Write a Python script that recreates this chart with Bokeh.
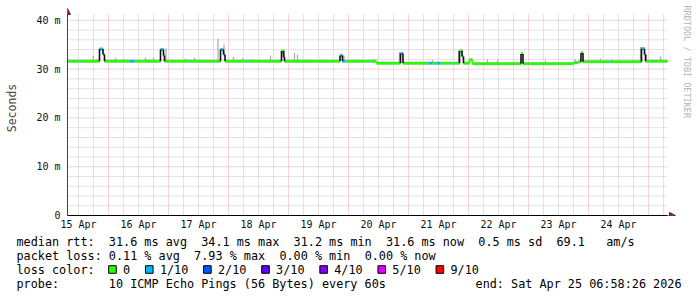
import re
import numpy as np
from bokeh.plotting import figure
from bokeh.models import Range1d, FixedTicker, Arrow, NormalHead, Label
from bokeh.layouts import column
from bokeh.embed import file_html
from bokeh.resources import INLINE
from bokeh.core.properties import value

MONO = "DejaVu Sans Mono"

# ---------------- data (hours since 15 Apr 00:00, RTT in ms) ----------------
x_start_h = 7.6
x_end_h = 247.6
y_top = 41.4

med_h = [7.6, 8.4, 8.8, 12.4, 12.8, 20.4, 21.8, 22.4, 32.4, 34.4,
         44.4, 44.8, 46.0, 46.4, 56.4, 56.8, 60.4, 60.8, 65.2, 65.6,
         68.8, 70.0, 70.6, 80.0, 80.4, 93.2, 94.0, 94.4, 116.6, 117.6,
         118.8, 128.0, 128.4, 131.2, 140.8, 141.8, 152.0, 153.6, 155.2, 156.8,
         161.6, 162.0, 164.4, 165.4, 166.0, 168.4, 169.6, 189.0, 189.8, 203.6,
         204.0, 210.0, 212.0, 213.0, 213.8, 224.0, 224.4, 237.2, 238.4, 238.8]
med_v = [31.6, 31.6, 31.6, 31.6, 31.6, 34.1, 33.0, 31.6, 31.6, 31.6,
         31.6, 34.0, 32.8, 31.6, 31.6, 31.6, 31.6, 31.6, 31.6, 31.6,
         34.0, 33.0, 31.6, 31.6, 31.6, 33.7, 32.5, 31.6, 32.8, 31.6,
         31.6, 31.6, 31.6, 31.2, 33.2, 31.2, 31.2, 31.2, 31.2, 31.2,
         31.2, 31.2, 33.7, 32.6, 31.2, 31.9, 31.1, 33.1, 31.1, 31.1,
         31.1, 31.3, 31.5, 33.3, 31.5, 31.5, 31.5, 34.2, 33.0, 31.6]
med_loss = [0, 1, 0, 1, 0, 1, 1, 0, 1, 0,
            1, 1, 1, 0, 1, 0, 1, 0, 1, 0,
            1, 1, 0, 1, 0, 0, 0, 0, 1, 1,
            0, 1, 0, 0, 1, 0, 1, 0, 1, 0,
            1, 0, 0, 0, 0, 0, 0, 0, 0, 1,
            0, 0, 0, 0, 0, 1, 0, 1, 1, 0]

smoke_h = [17.9, 22.0, 26.8, 30.0, 38.8, 42.0, 47.0, 54.8, 58.4, 67.8,
           70.2, 74.0, 77.6, 81.6, 88.8, 94.4, 98.4, 99.6, 118.2, 130.0,
           140.4, 141.6, 153.6, 164.0, 165.6, 175.6, 179.6, 189.2, 198.8, 210.8,
           213.2, 220.8, 225.6, 236.8, 239.2, 244.8]
smoke_top = [32.8, 33.3, 32.3, 32.1, 32.4, 32.3, 34.3, 32.1, 32.4, 36.2,
             35.0, 32.5, 32.2, 32.0, 32.8, 33.9, 33.3, 33.0, 32.8, 32.0,
             33.5, 33.0, 31.9, 33.8, 34.0, 32.0, 31.8, 33.5, 31.8, 32.0,
             33.6, 32.2, 32.0, 34.6, 33.0, 32.6]

day_labels = ["15 Apr", "16 Apr", "17 Apr", "18 Apr", "19 Apr",
              "20 Apr", "21 Apr", "22 Apr", "23 Apr", "24 Apr"]
y_ticks = [0, 10, 20, 30, 40]
y_tick_labels = ["0", "10 m", "20 m", "30 m", "40 m"]

stat_lines = [
    "median rtt:  31.6 ms avg  34.1 ms max  31.2 ms min  31.6 ms now  0.5 ms sd  69.1   am/s",
    "packet loss: 0.11 % avg  7.93 % max  0.00 % min  0.00 % now",
    "loss color:",
    "probe:       10 ICMP Echo Pings (56 Bytes) every 60s",
]
end_text = "end: Sat Apr 25 06:58:26 2026"
loss_labels = ["0", "1/10", "2/10", "3/10", "4/10", "5/10", "9/10"]
loss_colors = ["#26ff00", "#00b8ff", "#0059ff", "#5e00ff", "#7e00ff", "#dd00ff", "#ff0000"]

# ---------------- chart ----------------
W = 697
CH = 232
PX_PER_H = 2.5          # 60 px per day
PX_PER_MS = 215 / 44.07
frame_right_h = x_end_h + 30 / PX_PER_H
frame_top_ms = y_top + 13 / PX_PER_MS

p = figure(width=W, height=CH, output_backend="svg", toolbar_location=None,
           x_range=Range1d(x_start_h, frame_right_h), y_range=Range1d(0, frame_top_ms),
           min_border_left=67, min_border_right=0, min_border_top=0,
           min_border_bottom=17)
p.frame_align = False
p.outline_line_color = None
p.xgrid.visible = False
p.ygrid.visible = False

noon = [12 + 24 * i for i in range(len(day_labels))]
mid = [24 * i for i in range(1, 11)]
six = [6 * i for i in range(2, 42) if i % 4 != 0]

minor_col = "#c4c4c4"
major_col = "#eeaaaa"
ymin = [v for v in range(2, 42, 2) if v % 10 != 0]
ymaj = y_ticks[1:]

# grid lines (bounded to the data area)
p.segment(x0=six, x1=six, y0=[0] * len(six), y1=[y_top] * len(six),
          line_color=minor_col, line_dash="1 1", line_width=1)
p.segment(x0=[x_start_h] * len(ymin), x1=[x_end_h] * len(ymin), y0=ymin, y1=ymin,
          line_color=minor_col, line_dash="1 1", line_width=1)
p.segment(x0=mid, x1=mid, y0=[0] * len(mid), y1=[y_top] * len(mid),
          line_color=major_col, line_dash="1 1", line_width=1)
p.segment(x0=[x_start_h] * len(ymaj), x1=[x_end_h] * len(ymaj), y0=ymaj, y1=ymaj,
          line_color=major_col, line_dash="1 1", line_width=1)

xa = p.xaxis[0]
xa.ticker = FixedTicker(ticks=noon)
xa.major_label_overrides = {n: l for n, l in zip(noon, day_labels)}
xa.major_tick_line_color = None
xa.major_tick_out = 0
xa.major_tick_in = 0
xa.minor_tick_line_color = None
xa.minor_tick_out = 0
xa.major_label_standoff = 3
xa.axis_line_color = "#000000"
xa.bounds = (x_start_h, x_end_h)
xa.major_label_text_font = MONO
xa.major_label_text_font_size = "10px"
xa.major_label_text_color = "#111111"

ya = p.yaxis[0]
ya.ticker = FixedTicker(ticks=y_ticks)
ya.major_label_overrides = {t: l for t, l in zip(y_ticks, y_tick_labels)}
ya.major_tick_line_color = None
ya.major_tick_out = 0
ya.major_tick_in = 0
ya.minor_tick_line_color = None
ya.minor_tick_out = 0
ya.major_label_standoff = 7
ya.axis_line_color = "#444444"
ya.bounds = (0, y_top)
ya.major_label_text_font = MONO
ya.major_label_text_font_size = "10px"
ya.major_label_text_color = "#111111"
ya.axis_label = "Seconds"
ya.axis_label_text_font = MONO
ya.axis_label_text_font_style = "normal"
ya.axis_label_text_font_size = "11.5px"
ya.axis_label_standoff = 14

# smoke
mh = np.array(med_h)
mv = np.array(med_v)
seg_x1 = np.append(mh[1:], x_end_h)
p.quad(left=mh, right=seg_x1, bottom=mv - 0.3, top=mv + 0.35,
       fill_color="#bdbdbd", line_color=None)
idx = np.searchsorted(mh, np.array(smoke_h), side="right") - 1
p.segment(x0=smoke_h, x1=smoke_h, y0=mv[idx], y1=smoke_top,
          line_color="#a9a9a9", line_width=1.2)

# median line coloured by loss
p.segment(x0=mh, y0=mv, x1=seg_x1, y1=mv,
          line_color=[loss_colors[l] for l in med_loss], line_width=2.6)
jump = np.abs(mv[1:] - mv[:-1])
conn_col = ["#111111" if j > 0.8 else loss_colors[l] for j, l in zip(jump, med_loss[1:])]
p.segment(x0=mh[1:], x1=mh[1:], y0=mv[:-1], y1=mv[1:],
          line_color=conn_col, line_width=1.6)

# axis arrows
arrow_col = "#8b1a1a"
p.add_layout(Arrow(end=NormalHead(size=6, fill_color=arrow_col, line_color=arrow_col),
                   line_color="#000000", line_width=1,
                   x_start=x_end_h, y_start=0, x_end=x_end_h + 8 / PX_PER_H, y_end=0))
p.add_layout(Arrow(end=NormalHead(size=6, fill_color=arrow_col, line_color=arrow_col),
                   line_color="#444444", line_width=1,
                   x_start=x_start_h, y_start=y_top, x_end=x_start_h, y_end=y_top + 5 / PX_PER_MS))

p.add_layout(Label(x=x_end_h + 19 / PX_PER_H, y=(215 - 5) / PX_PER_MS,
                   text="RRDTOOL / TOBI OETIKER",
                   angle=-np.pi / 2, text_align="left", text_baseline="middle",
                   text_font=MONO, text_font_size="8.5px", text_color="#b4b4b4"))

# ---------------- legend / stats ----------------
LH = 297 - CH
lp = figure(width=W, height=LH, output_backend="svg", toolbar_location=None,
            x_range=Range1d(0, W), y_range=Range1d(LH, 0),
            x_axis_location=None, y_axis_location=None, min_border=0)
lp.frame_align = False
lp.outline_line_color = None
lp.xgrid.visible = False
lp.ygrid.visible = False

FS = 11.8
cw = 0.6021 * FS
line_y = [9, 23, 37, 51]
tok_x, tok_y, tok_t = [], [], []
for ln, yy in zip(stat_lines, line_y):
    for m in re.finditer(r"\S+(?: \S+)*", ln):
        tok_x.append(16 + m.start() * cw)
        tok_y.append(yy)
        tok_t.append(m.group(0))
lp.text(x=tok_x, y=tok_y, text=tok_t, text_font=value(MONO),
        text_font_size=f"{FS}px", text_baseline="middle", text_align="left",
        text_color="#000000")
lp.text(x=[681], y=[line_y[3]], text=[end_text], text_font=value(MONO),
        text_font_size=f"{FS}px", text_baseline="middle", text_align="right",
        text_color="#000000")

tx = [16 + 15 * cw]
for lab in loss_labels[:-1]:
    tx.append(tx[-1] + len(lab) * cw + 29.7)
sq_x = [t - 10.6 for t in tx]
lp.scatter(x=sq_x, y=[line_y[2]] * len(sq_x), marker="square", size=7.6,
           fill_color=loss_colors, line_color="#000000", line_width=1)
lp.text(x=tx, y=[line_y[2]] * len(tx), text=loss_labels, text_font=value(MONO),
        text_font_size=f"{FS}px", text_baseline="middle", text_align="left",
        text_color="#000000")

layout = column(p, lp, spacing=0)
open("out.html", "w").write(file_html(layout, INLINE))
